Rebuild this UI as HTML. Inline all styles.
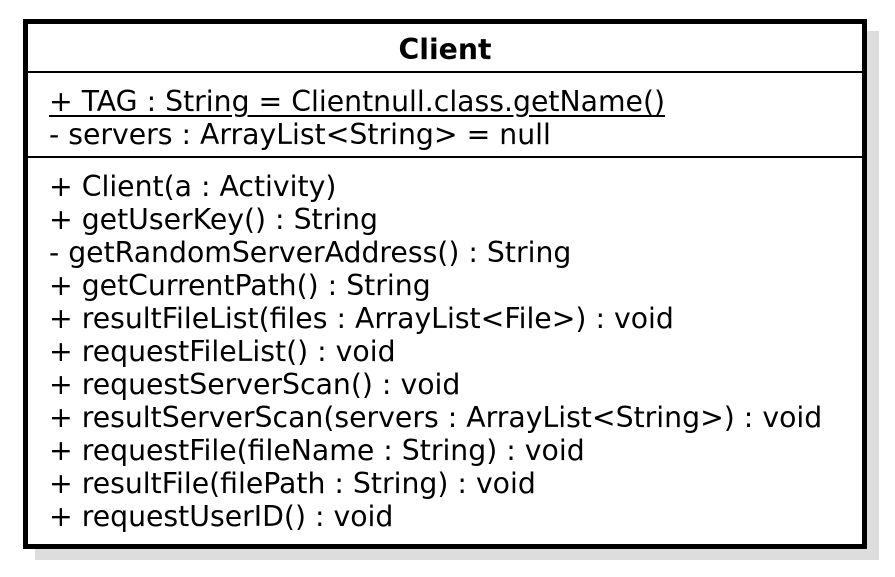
<!DOCTYPE html>
<html><head><style>
body{margin:0;width:895px;height:577px;background:#fff;position:relative;font-family:"DejaVu Sans","Liberation Sans",sans-serif;overflow:hidden}
.sh{position:absolute;left:35px;top:31px;width:844px;height:529px;background:#dddddd}
.box{position:absolute;left:23px;top:19px;width:834px;height:520px;border:5px solid #000;background:#fff}
.t{position:absolute;left:21px;font-size:28.3px;line-height:33px;white-space:nowrap;color:#000}
.hl{position:absolute;left:0;right:0;height:2px;background:#000}
</style></head><body>
<div class="sh"></div>
<div class="box">
<div class="t" style="left:0;right:0;text-align:center;top:9px;font-weight:bold">Client</div>
<div class="hl" style="top:47px"></div>
<div class="t" style="top:61px;text-decoration:underline;text-underline-offset:4px">+ TAG : String = Clientnull.class.getName()</div>
<div class="t" style="top:94px">- servers : ArrayList&lt;String&gt; = null</div>
<div class="hl" style="top:132px"></div>
<div class="t" style="top:146px">+ Client(a : Activity)</div>
<div class="t" style="top:179px">+ getUserKey() : String</div>
<div class="t" style="top:212px">- getRandomServerAddress() : String</div>
<div class="t" style="top:245px">+ getCurrentPath() : String</div>
<div class="t" style="top:278px">+ resultFileList(files : ArrayList&lt;File&gt;) : void</div>
<div class="t" style="top:311px">+ requestFileList() : void</div>
<div class="t" style="top:344px">+ requestServerScan() : void</div>
<div class="t" style="top:377px">+ resultServerScan(servers : ArrayList&lt;String&gt;) : void</div>
<div class="t" style="top:410px">+ requestFile(fileName : String) : void</div>
<div class="t" style="top:443px">+ resultFile(filePath : String) : void</div>
<div class="t" style="top:476px">+ requestUserID() : void</div>
</div>
</body></html>
